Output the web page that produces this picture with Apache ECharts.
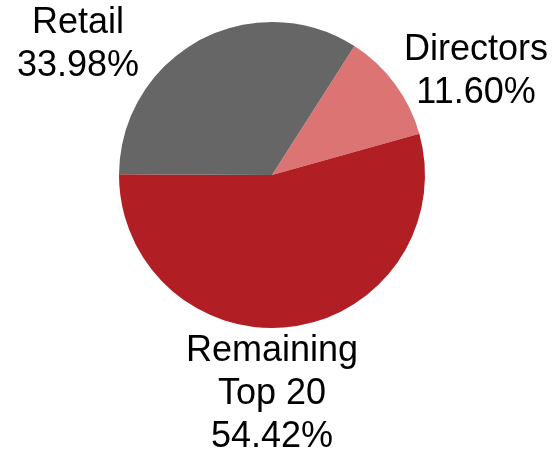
<!DOCTYPE html>
<html>
<head>
<meta charset="utf-8">
<script src="https://cdn.jsdelivr.net/npm/echarts@6/dist/echarts.min.js"></script>
<style>
  html, body { margin: 0; padding: 0; background: #fff; }
  #chart { width: 555px; height: 458px; }
</style>
</head>
<body>
<div id="chart"></div>
<script>
  // shareholder breakdown, clockwise from the Directors slice
  var names = ['Directors', 'Remaining\nTop 20', 'Retail'];
  var values = [11.60, 54.42, 33.98];
  var colors = ['#DC7474', '#B11F25', '#666666'];

  // where each label block sits (center x, top y)
  var labelPos = [[476, 29], [272, 330], [78, 2]];

  var chart = echarts.init(document.getElementById('chart'));
  chart.setOption({
    animation: false,
    series: [{
      type: 'pie',
      center: [272, 175],
      radius: 153,
      startAngle: 57.4,
      clockwise: true,
      avoidLabelOverlap: false,
      label: {
        show: true,
        position: 'outside',
        color: '#000',
        fontFamily: 'Liberation Sans, Arial, sans-serif',
        fontSize: 36,
        lineHeight: 43,
        align: 'center',
        formatter: function (p) {
          return p.name + '\n' + p.value.toFixed(2) + '%';
        }
      },
      labelLine: { show: false },
      labelLayout: function (params) {
        var pos = labelPos[params.dataIndex];
        return { x: pos[0], y: pos[1], align: 'center', verticalAlign: 'top' };
      },
      emphasis: { disabled: true },
      data: names.map(function (n, i) {
        return { name: n, value: values[i], itemStyle: { color: colors[i] } };
      })
    }]
  });
</script>
</body>
</html>
